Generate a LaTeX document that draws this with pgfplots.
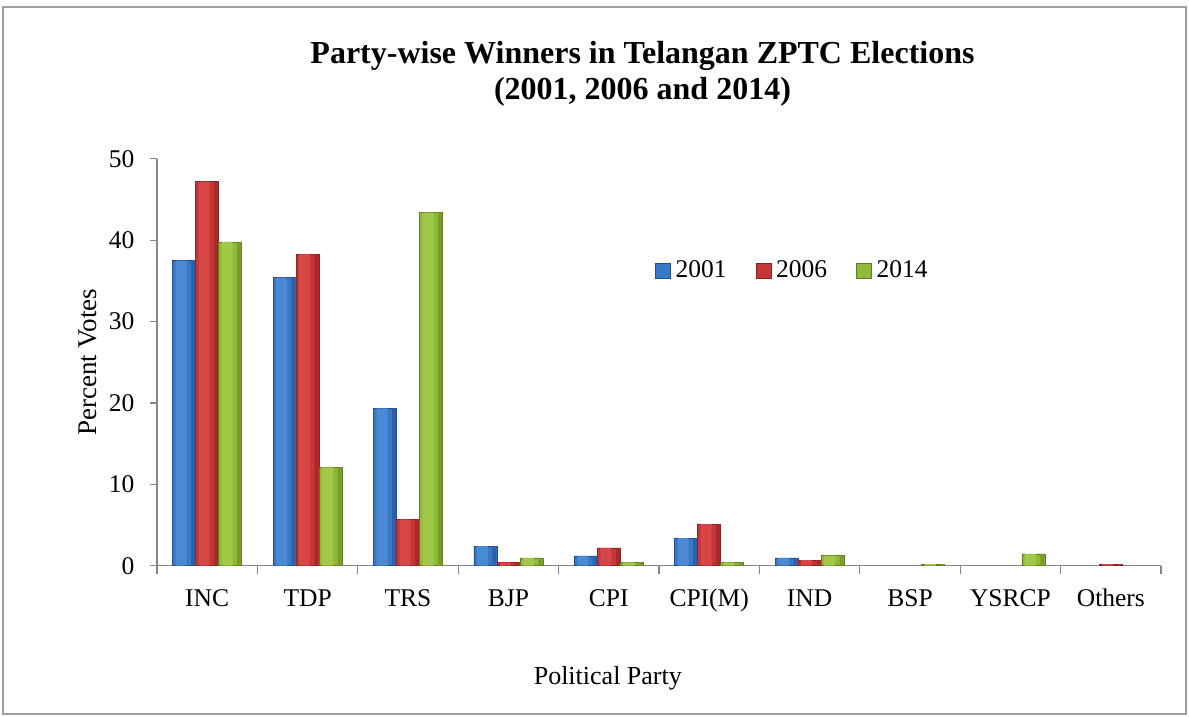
\documentclass[border=0pt]{standalone}
\usepackage{fontspec}
\setmainfont{Liberation Serif}
\usepackage{pgfplots}
\usepackage{pgfplotstable}
\pgfplotsset{compat=1.18}
\definecolor{bB}{RGB}{58,120,198}
\definecolor{bL}{RGB}{74,138,212}
\definecolor{bD}{RGB}{44,96,168}
\definecolor{rB}{RGB}{198,54,54}
\definecolor{rL}{RGB}{214,70,70}
\definecolor{rD}{RGB}{166,42,42}
\definecolor{gB}{RGB}{145,186,58}
\definecolor{gL}{RGB}{162,200,74}
\definecolor{gD}{RGB}{118,156,42}
\definecolor{axgray}{RGB}{134,134,134}
\pgfplotstableread{
x a b c
0 37.5 47.2 39.8
1 35.4 38.3 12.1
2 19.35 5.7 43.4
3 2.4 0.4 0.95
4 1.2 2.2 0.4
5 3.4 5.1 0.4
6 0.95 0.7 1.25
7 nan nan 0.2
8 nan nan 1.45
9 nan 0.2 nan
}\data
\begin{document}
\begin{tikzpicture}
\useasboundingbox (0pt,0pt) rectangle (1189pt,717pt);
\draw[axgray!80, line width=1.2pt] (3pt,3pt) rectangle (1186pt,710pt);
\node[align=center, font=\fontsize{32}{36}\selectfont\bfseries] at (642.5pt,643pt) {Party-wise Winners in Telangan ZPTC Elections\\(2001, 2006 and 2014)};
\begin{axis}[
  at={(157pt,151.3pt)}, anchor=south west,
  scale only axis, width=1004pt, height=406.8pt,
  xmin=-0.5, xmax=9.5, ymin=0, ymax=50,
  axis x line*=bottom, axis y line*=left,
  axis line style={axgray, line width=1.2pt},
  every tick/.style={axgray, line width=1.2pt},
  tick align=outside,
  ytick={0,10,20,30,40,50},
  major tick length=7.5pt,
  xtick={0,...,9},
  xticklabels={INC,TDP,TRS,BJP,CPI,CPI(M),IND,BSP,YSRCP,Others},
  x tick style={draw=none},
  extra x ticks={-0.5,0.5,...,9.5},
  extra x tick labels={},
  extra x tick style={x tick style={draw=axgray, line width=1.2pt}, major tick length=8pt},
  /pgf/number format/assume math mode=true,
  ticklabel style={font=\fontsize{25.5}{30}\selectfont},
  xticklabel style={inner sep=0pt, anchor=north, text height=17pt, yshift=-16pt},
  yticklabel style={inner sep=0pt, anchor=east, xshift=-15pt},
  xlabel={Political Party},
  ylabel={Percent Votes},
  xlabel style={font=\fontsize{26}{30}\selectfont, at={(axis description cs:0.449,-0.276)}, anchor=center},
  ylabel style={font=\fontsize{27}{30}\selectfont, at={(axis description cs:-0.0687,0.5)}, anchor=center},
  ybar, bar width=23pt,
  legend style={at={(axis description cs:0.496,0.727)}, anchor=west, draw=none, fill=none, inner sep=0pt,
    font=\fontsize{25.5}{30}\selectfont, nodes={inner sep=1pt},
    /tikz/every odd column/.append style={column sep=4pt},
    /tikz/every even column/.append style={column sep=28pt}},
  legend columns=-1,
  legend image code/.code={\draw[#1] (0pt,-8pt) rectangle (15pt,7pt);},
  clip=false,
]
% base bars
\addplot[bar shift=-23pt, bar width=23pt, fill=bB, draw=bD!80!black, line width=0.5pt] table[x=x,y=a] {\data};
\addplot[bar shift=0pt, bar width=23pt, fill=rB, draw=rD!80!black, line width=0.5pt] table[x=x,y=b] {\data};
\addplot[bar shift=23pt, bar width=23pt, fill=gB, draw=gD!80!black, line width=0.5pt] table[x=x,y=c] {\data};
% highlights
\addplot[forget plot, bar shift=-26pt, bar width=11pt, fill=bL, draw=none] table[x=x,y=a] {\data};
\addplot[forget plot, bar shift=-3pt, bar width=11pt, fill=rL, draw=none] table[x=x,y=b] {\data};
\addplot[forget plot, bar shift=20pt, bar width=11pt, fill=gL, draw=none] table[x=x,y=c] {\data};
% dark right edges
\addplot[forget plot, bar shift=-14pt, bar width=4pt, fill=bD, draw=none] table[x=x,y=a] {\data};
\addplot[forget plot, bar shift=9pt, bar width=4pt, fill=rD, draw=none] table[x=x,y=b] {\data};
\addplot[forget plot, bar shift=32pt, bar width=4pt, fill=gD, draw=none] table[x=x,y=c] {\data};
\legend{2001,2006,2014}
\end{axis}
\end{tikzpicture}
\end{document}
